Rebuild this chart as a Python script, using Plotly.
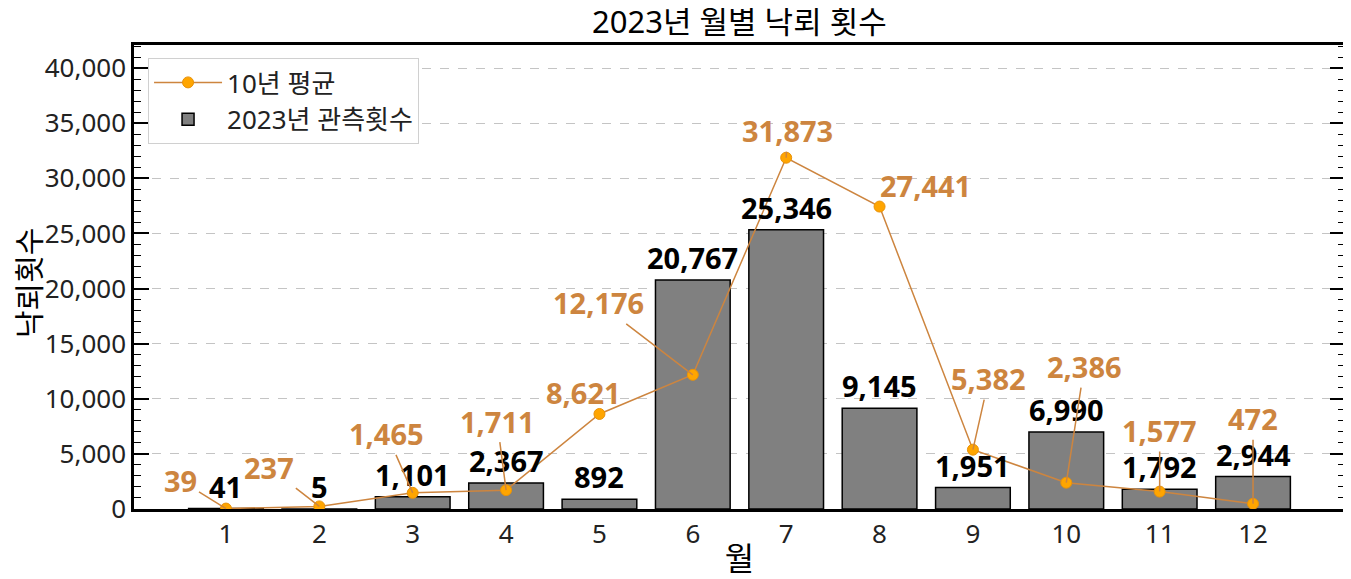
import plotly.graph_objects as go

# ---- data ----
months = [1, 2, 3, 4, 5, 6, 7, 8, 9, 10, 11, 12]
month_labels = ["1", "2", "3", "4", "5", "6", "7", "8", "9", "10", "11", "12"]
obs_2023 = [41, 5, 1101, 2367, 892, 20767, 25346, 9145, 1951, 6990, 1792, 2944]
avg_10yr = [39, 237, 1465, 1711, 8621, 12176, 31873, 27441, 5382, 2386, 1577, 472]
y_ticks = [0, 5000, 10000, 15000, 20000, 25000, 30000, 35000, 40000]

# ---- styling ----
FONT = "Noto Sans, Noto Sans CJK KR, sans-serif"
ORANGE_TXT = "#CD853F"
# pixel offsets (label position relative to point) for the 10-year average labels
label_dx = [-45, -50, -26, -9, -16, -94, 1, 46, 16, 18, 0, 0]
label_dy = [-28, -39, -59, -69, -21, -72, -27, -21, -71, -116, -61, -85]

fig = go.Figure()

fig.add_trace(go.Bar(
    x=months, y=obs_2023, width=0.8, name="2023년 관측횟수",
    marker=dict(color="#808080", line=dict(color="black", width=1.5)),
    legendrank=2,
))

fig.add_trace(go.Scatter(
    x=months, y=avg_10yr, mode="lines+markers", name="10년 평균",
    line=dict(color=ORANGE_TXT, width=1.5),
    marker=dict(size=11, color="#FFA500", line=dict(color="#E8920A", width=1)),
    legendrank=1,
))

annotations = []
for m, v in zip(months, obs_2023):
    annotations.append(dict(
        x=m, y=v, xref="x", yref="y", text=f"{v:,}", showarrow=False,
        yanchor="bottom", yshift=1,
        font=dict(family=FONT, size=29, color="black", weight="bold"),
    ))
for m, v, dx, dy in zip(months, avg_10yr, label_dx, label_dy):
    annotations.append(dict(
        x=m, y=v, xref="x", yref="y", text=f"{v:,}", showarrow=True,
        ax=dx, ay=dy, arrowhead=0, arrowwidth=1.5, arrowcolor=ORANGE_TXT,
        standoff=0, startstandoff=0,
        font=dict(family=FONT, size=29, color=ORANGE_TXT, weight="bold"),
    ))
# y-axis title placed as a rotated text
annotations.append(dict(
    text="낙뢰횟수", xref="paper", yref="paper", x=-0.0875, y=0.487,
    xanchor="center", yanchor="middle", textangle=-90, showarrow=False,
    font=dict(family=FONT, size=30, color="black"),
))
# chart title as a text above the plot area
annotations.append(dict(
    text="2023년 월별 낙뢰 횟수", xref="paper", yref="paper", x=0.5, y=1.0,
    xanchor="center", yanchor="bottom", yshift=1, showarrow=False,
    font=dict(family=FONT, size=31, color="black"),
))

# page body has an 8px margin, so the figure is sized to fit the 1351x579 window
fig.update_layout(
    width=1343, height=571,
    margin=dict(l=126, r=6, t=37, b=70, autoexpand=False),
    paper_bgcolor="white", plot_bgcolor="white",
    font=dict(family=FONT, size=26, color="#222222"),
    showlegend=True,
    legend=dict(x=0.0116, y=0.972, xanchor="left", yanchor="top",
                bgcolor="white", bordercolor="#d0d0d0", borderwidth=1,
                font=dict(family=FONT, size=26, color="#222222"),
                itemwidth=68, tracegroupgap=0),
    annotations=annotations,
)

fig.update_xaxes(
    range=[0.015, 12.985], tickvals=months, ticktext=month_labels,
    showline=True, linecolor="black", linewidth=2.5, mirror=True,
    ticks="", showgrid=False, zeroline=False, automargin=False,
    tickfont=dict(family=FONT, size=26, color="#222222"),
    title=dict(text="월", font=dict(family=FONT, size=32, color="black"), standoff=10),
)

fig.update_yaxes(
    range=[0, 42100], tickvals=y_ticks, tickformat=",",
    showline=True, linecolor="black", linewidth=2.5, mirror="ticks",
    ticks="inside", ticklen=15, tickwidth=1.5, tickcolor="black",
    minor=dict(dtick=1000, ticks="inside", ticklen=7, tickwidth=1.2,
               tickcolor="black", showgrid=False),
    showgrid=True, gridcolor="#c4c4c4", gridwidth=1, griddash="dash",
    zeroline=False, automargin=False,
    tickfont=dict(family=FONT, size=26, color="#222222"),
)

fig.write_html("out.html")
